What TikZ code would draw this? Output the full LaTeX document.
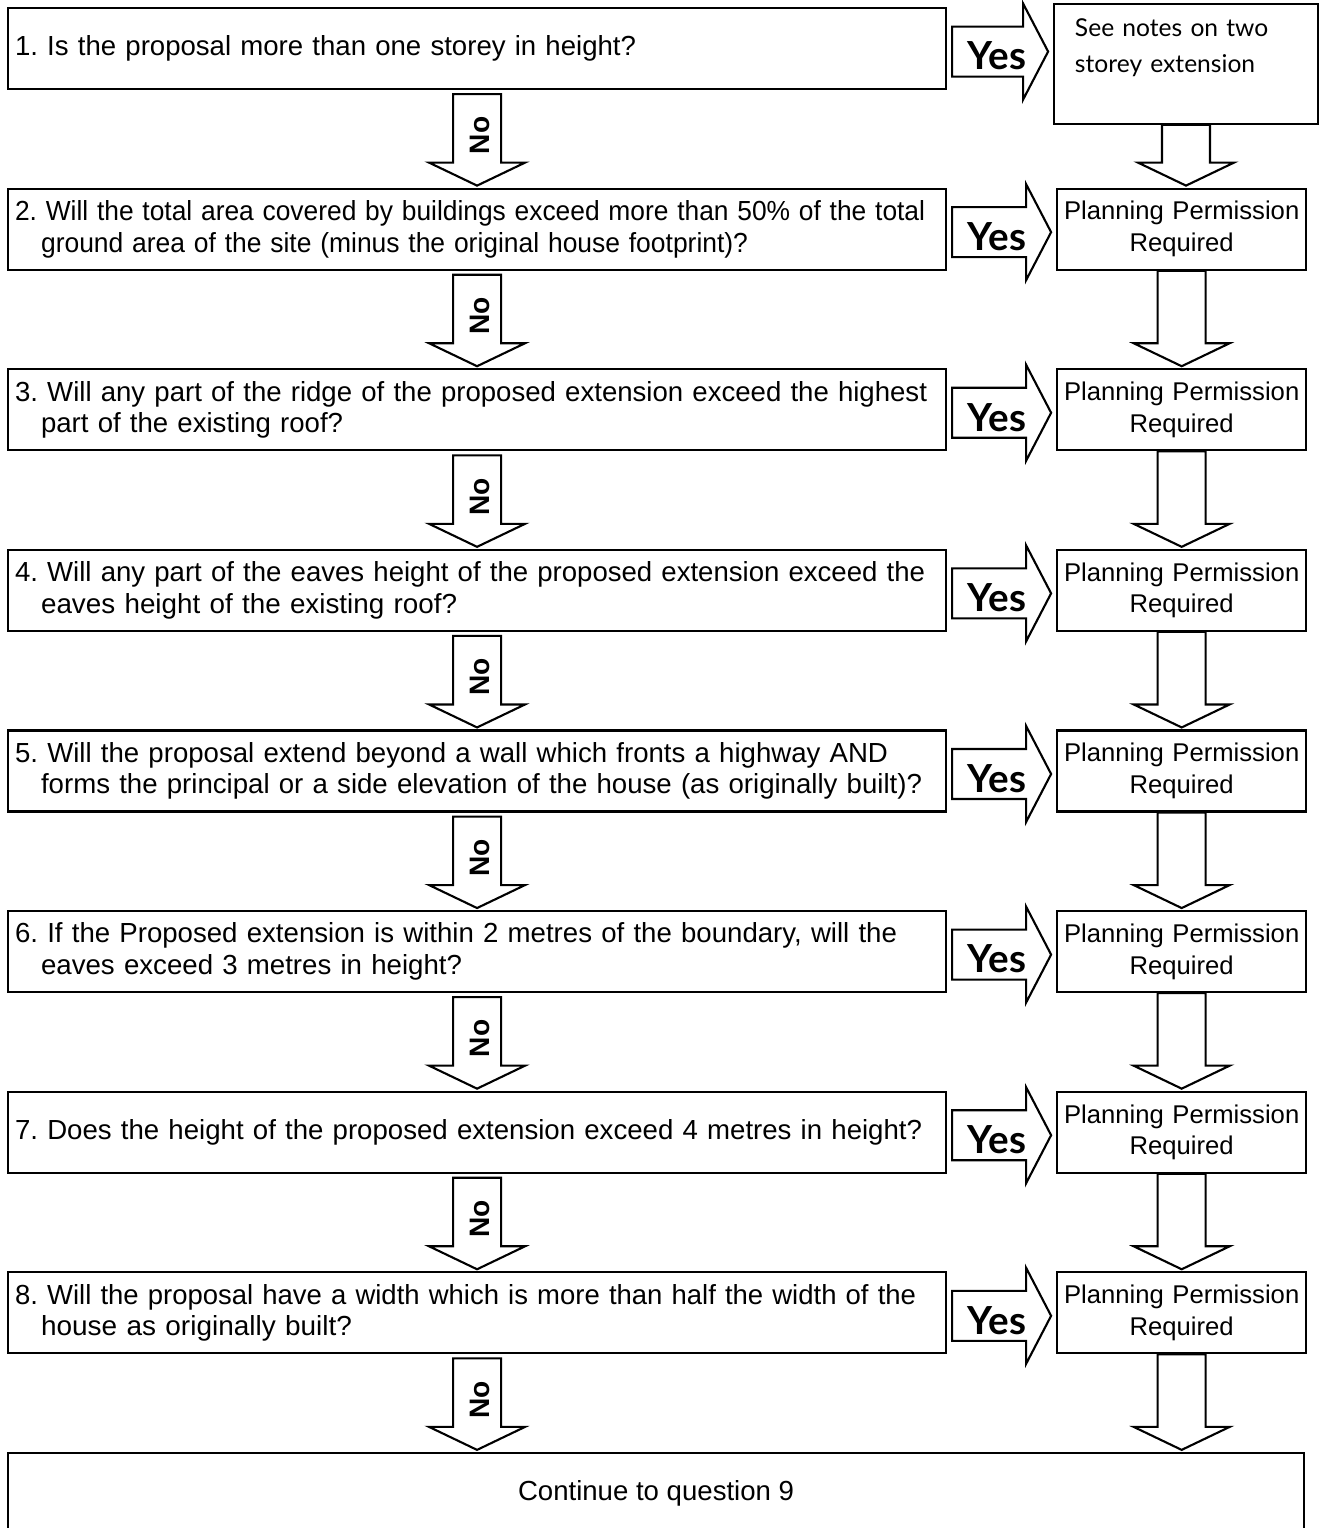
\documentclass[tikz,border=0pt]{standalone}
\usepackage{fontspec}
\setmainfont{Liberation Sans}
\newfontfamily\gillfont{Lato}
\usetikzlibrary{positioning, calc}
\frenchspacing

% one line of a question, set to the width it has in the chart
\newcommand{\qline}[2]{\resizebox{#1}{\height}{#2}}

\begin{document}
\begin{tikzpicture}[
    node distance=1.95cm and 2.18cm,
    question/.style={rectangle, draw=black, line width=1.2pt, minimum width=18.76cm, minimum height=1.62cm, text width=18.48cm, inner xsep=0.14cm, align=left, font=\fontsize{15.7pt}{18pt}\selectfont},
    outcome/.style={rectangle, draw=black, line width=1.2pt, minimum width=4.98cm, minimum height=1.62cm, text width=4.9cm, inner xsep=0.04cm, align=center, font=\fontsize{14.6pt}{18pt}\selectfont},
    notebox/.style={rectangle, draw=black, line width=1pt, minimum width=5.28cm, minimum height=2.4cm, text width=4.44cm, inner xsep=0.42cm, align=left, font=\gillfont\fontsize{14pt}{20.4pt}\selectfont},
    endbox/.style={rectangle, draw=black, line width=1.2pt, minimum width=25.92cm, minimum height=1.62cm, align=center, font=\fontsize{15.7pt}{18pt}\selectfont},
    blockarrow/.style={draw=black, line width=1.2pt, fill=white, line join=miter},
    yeslabel/.style={font=\gillfont\bfseries\fontsize{22pt}{24pt}\selectfont, inner sep=0pt},
    nolabel/.style={font=\bfseries\fontsize{16pt}{18pt}\selectfont, rotate=90, inner sep=0pt}
]
    \useasboundingbox (0,0) rectangle (26.38,-30.56);

    % Questions
    \node [question, anchor=north west] (q1) at (0.14,-0.14) {\qline{12.42cm}{1. Is the proposal more than one storey in height?}};
    \node [question, below=of q1] (q2) {\qline{18.2cm}{2. Will the total area covered by buildings exceed more than 50\% of the total}\\\hspace*{0.52cm}\qline{14.14cm}{ground area of the site (minus the original house footprint)?}};
    \node [question, below=of q2] (q3) {\qline{18.24cm}{3. Will any part of the ridge of the proposed extension exceed the highest}\\\hspace*{0.52cm}\qline{6.04cm}{part of the existing roof?}};
    \node [question, below=of q3] (q4) {\qline{18.2cm}{4. Will any part of the eaves height of the proposed extension exceed the}\\\hspace*{0.52cm}\qline{8.32cm}{eaves height of the existing roof?}};
    \node [question, below=of q4] (q5) {\qline{17.46cm}{5. Will the proposal extend beyond a wall which fronts a highway AND}\\\hspace*{0.52cm}\qline{17.62cm}{forms the principal or a side elevation of the house (as originally built)?}};
    \node [question, below=of q5] (q6) {\qline{17.64cm}{6. If the Proposed extension is within 2 metres of the boundary, will the}\\\hspace*{0.52cm}\qline{8.42cm}{eaves exceed 3 metres in height?}};
    \node [question, below=of q6] (q7) {\qline{18.14cm}{7. Does the height of the proposed extension exceed 4 metres in height?}};
    \node [question, below=of q7] (q8) {\qline{18.02cm}{8. Will the proposal have a width which is more than half the width of the}\\\hspace*{0.52cm}\qline{6.22cm}{house as originally built?}};

    % Last step
    \node [endbox, below=1.95cm of q8.south west, anchor=north west] (cont) {Continue to question 9};

    % Outcomes
    \node [notebox, below right=-0.08cm and 2.12cm of q1.north east] (notes) {See notes on two\\storey extension\\\mbox{}};
    \node [outcome, right=of q2] (r2) {Planning Permission\\Required};
    \node [outcome, right=of q3] (r3) {Planning Permission\\Required};
    \node [outcome, right=of q4] (r4) {Planning Permission\\Required};
    \node [outcome, right=of q5] (r5) {Planning Permission\\Required};
    \node [outcome, right=of q6] (r6) {Planning Permission\\Required};
    \node [outcome, right=of q7] (r7) {Planning Permission\\Required};
    \node [outcome, right=of q8] (r8) {Planning Permission\\Required};

    % No arrows
    \foreach \a/\b in {q1/q2, q2/q3, q3/q4, q4/q5, q5/q6, q6/q7, q7/q8, q8/cont}
        \path [blockarrow] let \p1=(\a.south), \p2=(\b.north) in
            (\x1-0.48cm,\y1-0.08cm) -- (\x1+0.48cm,\y1-0.08cm) -- (\x1+0.48cm,\y2+0.5cm)
            -- (\x1+0.96cm,\y2+0.5cm) -- (\x1,\y2+0.04cm) -- (\x1-0.96cm,\y2+0.5cm)
            -- (\x1-0.48cm,\y2+0.5cm) -- cycle
            ({\x1+0.06cm},{0.5*\y1+0.5*\y2+0.07cm}) node [nolabel] {No};

    % Outcome arrows
    \foreach \a/\b in {notes/r2, r2/r3, r3/r4, r4/r5, r5/r6, r6/r7, r7/r8, r8/cont}
        \path [blockarrow] let \p1=(\a.south), \p2=(\b.north) in
            (\x1-0.48cm,\y1) -- (\x1+0.48cm,\y1) -- (\x1+0.48cm,\y2+0.5cm)
            -- (\x1+0.96cm,\y2+0.5cm) -- (\x1,\y2+0.04cm) -- (\x1-0.96cm,\y2+0.5cm)
            -- (\x1-0.48cm,\y2+0.5cm) -- cycle;

    % Yes arrows
    \foreach \a/\b in {q1/notes, q2/r2, q3/r3, q4/r4, q5/r5, q6/r6, q7/r7, q8/r8}
        \path [blockarrow] let \p1=(\a.east), \p2=(\b.west) in
            (\x1+0.1cm,\y1+0.44cm) -- (\x2-0.6cm,\y1+0.44cm) -- (\x2-0.6cm,\y1+0.9cm)
            -- (\x2-0.1cm,\y1-0.06cm) -- (\x2-0.6cm,\y1-1.02cm) -- (\x2-0.6cm,\y1-0.56cm)
            -- (\x1+0.1cm,\y1-0.56cm) -- cycle
            (\x1+1.0cm,\y1-0.15cm) node [yeslabel] {Yes};

\end{tikzpicture}
\end{document}
